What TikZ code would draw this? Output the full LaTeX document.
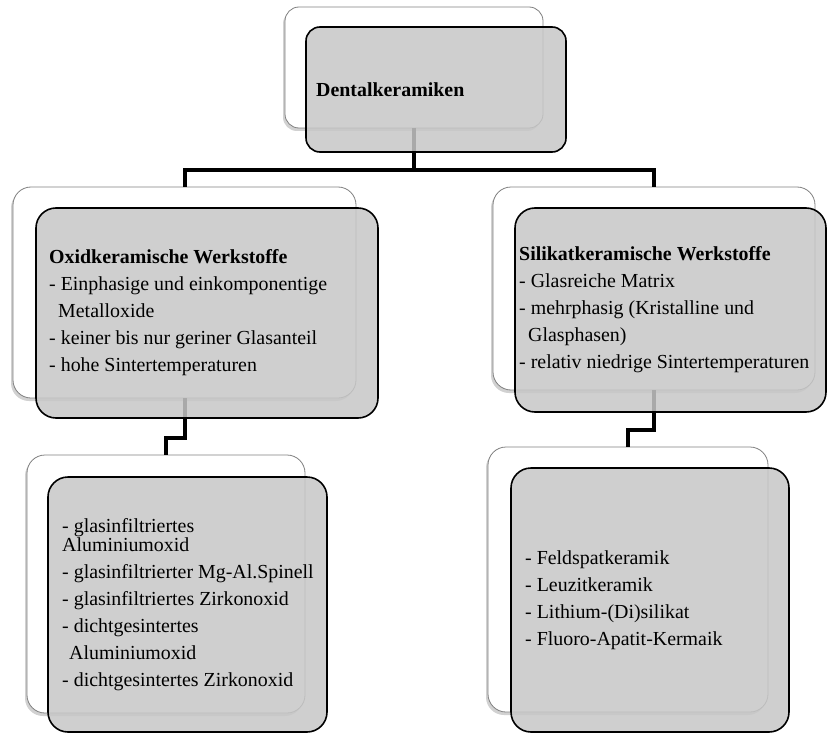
\documentclass[tikz,border=0pt]{standalone}
\usepackage{fontspec}
\setmainfont{Liberation Serif}
\usetikzlibrary{shadows}

\begin{document}
\begin{tikzpicture}[
    x=1pt, y=-1pt,
    backbox/.style={rectangle, draw=black!50, line width=0.8pt, fill=white, rounded corners=18pt, inner sep=0pt, outer sep=0pt,
        drop shadow={shadow xshift=-2pt, shadow yshift=-3pt, opacity=0.3, fill=black!60}},
    frontbox/.style={rectangle, draw=black, line width=1.6pt, fill=black!22, fill opacity=0.85, rounded corners=20pt, inner sep=0pt, outer sep=0pt},
    boxtext/.style={anchor=west, align=left, inner sep=0pt, font=\fontsize{19.9}{27}\selectfont},
    connector/.style={line width=4pt, black}
]
\useasboundingbox (0,0) rectangle (827,733);

% back boxes
\node[backbox, rounded corners=14pt, minimum width=258pt, minimum height=121pt] (topback) at (414,67.5) {};
\node[backbox, minimum width=343pt, minimum height=211pt] (oxidback) at (184.5,292.5) {};
\node[backbox, minimum width=322pt, minimum height=203pt] (silikback) at (654,288.5) {};
\node[backbox, minimum width=278pt, minimum height=258pt] (oxlistback) at (166,584) {};
\node[backbox, minimum width=280pt, minimum height=265pt] (silistback) at (628,579.5) {};

% connectors
\draw[connector] (topback.south) -- ++(0,42) -| (oxidback.north);
\draw[connector] (topback.south) -- ++(0,42) -| (silikback.north);
\draw[connector] (oxidback.south) -- ++(0,40) -| (oxlistback.north);
\draw[connector] (silikback.south) -- ++(0,40) -| (silistback.north);

% front boxes
\node[frontbox, rounded corners=14pt, minimum width=260pt, minimum height=125pt] (topfront) at (436,89.5) {};
\node[frontbox, minimum width=342pt, minimum height=210pt] (oxidfront) at (207,313) {};
\node[frontbox, minimum width=311pt, minimum height=204pt] (silikfront) at (670.5,310) {};
\node[frontbox, minimum width=279pt, minimum height=255pt] (oxlistfront) at (187.5,604.5) {};
\node[frontbox, minimum width=278pt, minimum height=264pt] (silistfront) at (650,600) {};

% texts
\node[boxtext] (toptext) at ([xshift=10pt]topfront.west) {\textbf{Dentalkeramiken}};

\node[boxtext] (oxidtext) at ([xshift=13pt]oxidfront.west) {
    \textbf{Oxidkeramische Werkstoffe}\\
    - Einphasige und einkomponentige\\
    \hspace*{9pt}Metalloxide\\
    - keiner bis nur geriner Glasanteil\\
    - hohe Sintertemperaturen
};

\node[boxtext] (silikText) at ([xshift=4pt]silikfront.west) {
    \textbf{Silikatkeramische Werkstoffe}\\
    - Glasreiche Matrix\\
    - mehrphasig (Kristalline und\\
    \hspace*{9pt}Glasphasen)\\
    - relativ niedrige Sintertemperaturen
};

\node[boxtext] (oxlisttext) at ([xshift=14pt]oxlistfront.west) {
    - glasinfiltriertes\\[-8pt]
    Aluminiumoxid\\
    - glasinfiltrierter Mg-Al.Spinell\\
    - glasinfiltriertes Zirkonoxid\\
    - dichtgesintertes\\
    \hspace*{7pt}Aluminiumoxid\\
    - dichtgesintertes Zirkonoxid
};

\node[boxtext] (silisttext) at ([xshift=14pt]silistfront.west) {
    - Feldspatkeramik\\
    - Leuzitkeramik\\
    - Lithium-(Di)silikat\\
    - Fluoro-Apatit-Kermaik
};

\end{tikzpicture}
\end{document}
